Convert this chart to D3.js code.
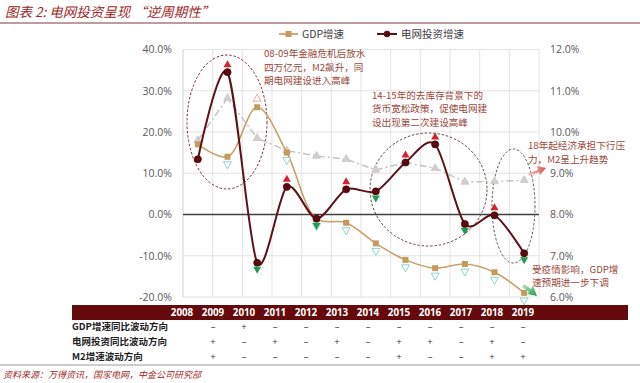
<!DOCTYPE html>
<html><head><meta charset="utf-8">
<script src="https://cdn.jsdelivr.net/npm/d3@7/dist/d3.min.js"></script>
<style>
body{margin:0;background:#fff;}
svg{display:block;}
</style></head>
<body><svg id="c" width="640" height="383"></svg>
<script>
// ---- data ----
const years = ['2008','2009','2010','2011','2012','2013','2014','2015','2016','2017','2018','2019'];
const gridInv = [13.4, 34.5, -11.7, 6.7, -1.0, 6.1, 5.6, 12.6, 17.0, -2.3, -0.2, -9.4]; // left axis, %
const gdp = [9.7, 9.4, 10.6, 9.5, 7.9, 7.8, 7.3, 6.9, 6.7, 6.8, 6.6, 6.1]; // right axis, %
const m2 = [18.0, 28.2, 18.5, 15.5, 14.2, 13.4, 10.8, 12.6, 11.2, 7.9, 8.0, 8.3]; // left axis, %
const leftTicks = [-20, -10, 0, 10, 20, 30, 40];
const rightTicks = [6, 7, 8, 9, 10, 11, 12];
const gdpDir = ['', '-', '+', '-', '-', '-', '-', '-', '-', '-', '-', '-'];
const invDir = ['', '+', '-', '+', '-', '+', '-', '+', '+', '-', '+', '-'];
const m2Dir  = ['', '+', '-', '-', '-', '-', '-', '+', '-', '-', '+', '+'];
const rowLabels = ['GDP增速同比波动方向', '电网投资同比波动方向', 'M2增速波动方向'];
const seriesNames = ['GDP增速', '电网投资增速'];
const title = '图表 2:  电网投资呈现 “逆周期性”';
const source = '资料来源：万得资讯，国家电网，中金公司研究部';
const notes = [
  ['08-09年金融危机后放水', '四万亿元，M2飙升，同', '期电网建设进入高峰'],
  ['14-15年的去库存背景下的', '货币宽松政策，促使电网建', '设出现第二次建设高峰'],
  ['18年起经济承担下行压', '力，M2呈上升趋势'],
  ['受疫情影响，GDP增', '速预期进一步下调']
];

const svg = d3.select('#c');
const L = 183, R = 539, T = 49.5, B = 297;
const x = d3.scaleBand().domain(years).range([L, R]);
const cx = d => x(d) + x.bandwidth() / 2;
const yL = d3.scaleLinear().domain([-20, 40]).range([B, T]);
const yR = d3.scaleLinear().domain([6, 12]).range([B, T]);
const tickFont = '"Open Sans", "Liberation Sans", sans-serif';
const cjk = '"Noto Sans CJK SC", sans-serif';

// defs
const defs = svg.append('defs');
const g1 = defs.append('linearGradient').attr('id', 'ga').attr('x1', '0').attr('x2', '1');
g1.append('stop').attr('offset', '0').attr('stop-color', '#f4c6c6');
g1.append('stop').attr('offset', '1').attr('stop-color', '#d9534f');
const g2 = defs.append('linearGradient').attr('id', 'gb').attr('x1', '0').attr('x2', '1').attr('y1', '0').attr('y2', '1');
g2.append('stop').attr('offset', '0').attr('stop-color', '#bfe8c8');
g2.append('stop').attr('offset', '1').attr('stop-color', '#1f9a4a');

// title
svg.append('text').attr('x', 5).attr('y', 17).text(title)
  .attr('font-family', cjk).attr('font-size', 13.5).attr('font-style', 'italic')
  .attr('fill', '#9c2a2a');
svg.append('line').attr('x1', 0).attr('x2', 640).attr('y1', 23).attr('y2', 23)
  .attr('stroke', '#7a3a3a').attr('stroke-width', 1);

// grid
svg.append('g').selectAll('line').data(leftTicks).join('line')
  .attr('x1', L).attr('x2', R).attr('y1', d => yL(d)).attr('y2', d => yL(d))
  .attr('stroke', '#e3e3e3').attr('stroke-width', 1);
svg.append('g').selectAll('line').data(years.slice(1).concat(['end'])).join('line')
  .attr('x1', (d, i) => L + (i + 1) * x.bandwidth()).attr('x2', (d, i) => L + (i + 1) * x.bandwidth())
  .attr('y1', T).attr('y2', B).attr('stroke', '#e3e3e3').attr('stroke-width', 1);
svg.append('line').attr('x1', L).attr('x2', L).attr('y1', T).attr('y2', B).attr('stroke', '#d0d0d0');
svg.append('line').attr('x1', L).attr('x2', R).attr('y1', yL(0)).attr('y2', yL(0)).attr('stroke', '#404040').attr('stroke-width', 1.3);

// axes labels
const axL = svg.append('g').attr('transform', `translate(${L - 8},0)`)
  .call(d3.axisLeft(yL).tickValues(leftTicks).tickSize(0).tickFormat(d => d.toFixed(1) + '%'));
axL.select('.domain').remove();
axL.selectAll('text').attr('font-family', tickFont).attr('font-size', 10.5).attr('fill', '#595959');
const axR = svg.append('g').attr('transform', `translate(${R + 8},0)`)
  .call(d3.axisRight(yR).tickValues(rightTicks).tickSize(0).tickFormat(d => d.toFixed(1) + '%'));
axR.select('.domain').remove();
axR.selectAll('text').attr('font-family', tickFont).attr('font-size', 10.5).attr('fill', '#595959');

// ellipses
const ell = [
  {cx: 227, cy: 122, rx: 40, ry: 67, c: '#7a2a35'},
  {cx: 428.5, cy: 189.5, rx: 58.5, ry: 56.5, c: '#6a4040'},
  {cx: 513.5, cy: 206, rx: 21.5, ry: 57, c: '#6a5050'}
];
svg.append('g').selectAll('ellipse').data(ell).join('ellipse')
  .attr('cx', d => d.cx).attr('cy', d => d.cy).attr('rx', d => d.rx).attr('ry', d => d.ry)
  .attr('fill', 'none').attr('stroke', d => d.c).attr('stroke-width', 1).attr('stroke-dasharray', '2.5,1.8');

// M2 line
const m2Line = d3.line().x((d, i) => cx(years[i])).y(d => yL(d));
svg.append('path').datum(m2).attr('d', m2Line).attr('fill', 'none')
  .attr('stroke', '#c3c3c3').attr('stroke-width', 1.4).attr('stroke-dasharray', '7,3,2,3');
const tri = d3.symbol().type(d3.symbolTriangle);
svg.append('g').selectAll('path').data(m2).join('path')
  .attr('d', tri.size(28)()).attr('transform', (d, i) => `translate(${cx(years[i])},${yL(d)})`)
  .attr('fill', '#d0d0d0').attr('stroke', '#c0c0c0').attr('stroke-width', 0.6);

// GDP line
const gdpLine = d3.line().x((d, i) => cx(years[i])).y(d => yR(d)).curve(d3.curveCatmullRom.alpha(0.5));
svg.append('path').datum(gdp).attr('d', gdpLine).attr('fill', 'none')
  .attr('stroke', '#c9a06a').attr('stroke-width', 1.6);
svg.append('g').selectAll('rect').data(gdp).join('rect')
  .attr('x', (d, i) => cx(years[i]) - 3).attr('y', d => yR(d) - 3).attr('width', 6).attr('height', 6)
  .attr('fill', '#c49a5e');

// grid investment line
const invLine = d3.line().x((d, i) => cx(years[i])).y(d => yL(d)).curve(d3.curveCardinal.tension(0.15));
svg.append('path').datum(gridInv).attr('d', invLine).attr('fill', 'none')
  .attr('stroke', '#5c1218').attr('stroke-width', 2);
svg.append('g').selectAll('circle').data(gridInv).join('circle')
  .attr('cx', (d, i) => cx(years[i])).attr('cy', d => yL(d)).attr('r', 3.6)
  .attr('fill', '#5a0a10').attr('stroke', '#3a0508').attr('stroke-width', 0.6);

// direction triangles
const triUp = 'M0,-4L4,3L-4,3Z';
const triDn = 'M0,4L4,-3L-4,-3Z';
svg.append('g').selectAll('path').data(gdp.map((v, i) => ({v, i, d: gdpDir[i]})).filter(o => o.d)).join('path')
  .attr('d', o => o.d === '+' ? triUp : triDn)
  .attr('transform', o => `translate(${cx(years[o.i])},${yR(o.v) + (o.d === '+' ? -9 : 8)})`)
  .attr('fill', '#fff').attr('stroke', o => o.d === '+' ? '#e3a0a8' : '#7fcfc4').attr('stroke-width', 0.9);
svg.append('g').selectAll('path').data(gridInv.map((v, i) => ({v, i, d: invDir[i]})).filter(o => o.d)).join('path')
  .attr('d', o => o.d === '+' ? triUp : triDn)
  .attr('transform', o => `translate(${cx(years[o.i])},${yL(o.v) + (o.d === '+' ? -8 : 7)})`)
  .attr('fill', o => o.d === '+' ? '#d8202e' : '#1f9a55');

// legend
const lg = svg.append('g');
lg.append('line').attr('x1', 279).attr('x2', 298).attr('y1', 34).attr('y2', 34).attr('stroke', '#c9a06a').attr('stroke-width', 1.8);
lg.append('rect').attr('x', 285.5).attr('y', 31).attr('width', 6).attr('height', 6).attr('fill', '#c49a5e');
lg.append('text').attr('x', 302).attr('y', 38).text(seriesNames[0]).attr('font-family', cjk).attr('font-size', 10.5).attr('fill', '#404040');
lg.append('line').attr('x1', 377).attr('x2', 397).attr('y1', 34).attr('y2', 34).attr('stroke', '#5c1218').attr('stroke-width', 2);
lg.append('circle').attr('cx', 387).attr('cy', 34).attr('r', 3.2).attr('fill', '#5a0a10');
lg.append('text').attr('x', 401).attr('y', 38).text(seriesNames[1]).attr('font-family', cjk).attr('font-size', 10.5).attr('fill', '#404040');

// annotations (one text element per line)
const notePos = [[264, 54, 13.5], [372, 95.5, 13.5], [528, 146, 13.5], [532, 269.5, 13.5]];
notes.forEach((lines, k) => {
  const [nx, ny, lh] = notePos[k];
  lines.forEach((s, j) => svg.append('text').attr('x', nx).attr('y', ny + 3.3 + j * lh).text(s)
    .attr('font-family', cjk).attr('font-size', 9.6).attr('fill', '#9a4a3e'));
});
// arrows
svg.append('path').attr('d', 'M528,173 L538,170 L537,166 L546,168 L540,175 L539,172 L529,176Z').attr('fill', 'url(#ga)');
svg.append('path').attr('d', 'M524,284 L531,289 L533,286 L537,296 L527,294 L529,292 L522,287Z').attr('fill', 'url(#gb)');

// table
svg.append('rect').attr('x', 72).attr('y', 305).attr('width', 556).attr('height', 15).attr('fill', '#650a0c');
const xt = d3.scalePoint().domain(years).range([182, 523]);
svg.append('g').selectAll('text').data(years).join('text')
  .attr('x', d => xt(d)).attr('y', 315.8).attr('text-anchor', 'middle').text(d => d)
  .attr('font-family', tickFont).attr('font-size', 9.8).attr('font-weight', 'bold').attr('fill', '#fff');
const rows = [gdpDir, invDir, m2Dir];
const rowY = [326.5, 341.5, 356];
rows.forEach((r, k) => {
  svg.append('text').attr('x', 72).attr('y', rowY[k] + 3.5).text(rowLabels[k])
    .attr('font-family', cjk).attr('font-size', 9.5).attr('font-weight', 'bold').attr('fill', '#222');
  svg.append('g').selectAll('text').data(r.map((s, i) => ({s, i})).filter(o => o.s)).join('text')
    .attr('x', o => xt(years[o.i])).attr('y', rowY[k] + 3.5).attr('text-anchor', 'middle')
    .text(o => o.s === '+' ? '+' : '–')
    .attr('font-family', tickFont).attr('font-size', 9.5).attr('fill', '#333');
});
svg.append('line').attr('x1', 0).attr('x2', 640).attr('y1', 365).attr('y2', 365).attr('stroke', '#999').attr('stroke-width', 1);
svg.append('text').attr('x', 3).attr('y', 378).text(source)
  .attr('font-family', cjk).attr('font-size', 9).attr('font-style', 'italic').attr('fill', '#9c2a2a');
</script></body></html>
